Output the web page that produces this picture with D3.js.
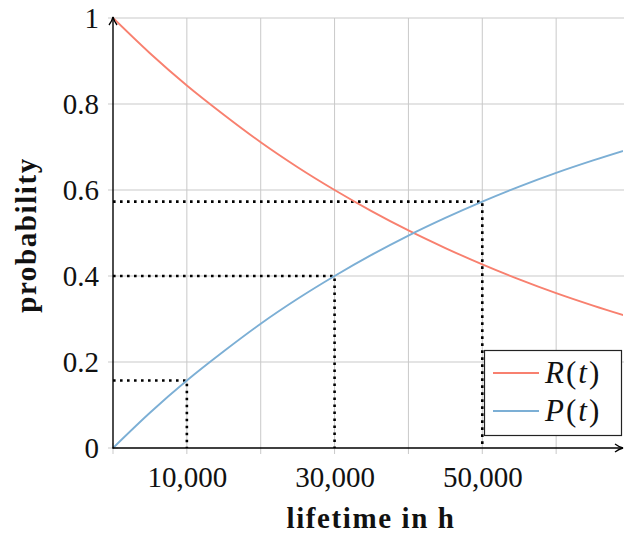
<!DOCTYPE html>
<html>
<head>
<meta charset="utf-8">
<script src="https://cdn.jsdelivr.net/npm/d3@7"></script>
<style>
  html, body { margin: 0; padding: 0; background: #fff; }
  svg { display: block; }
  svg text { font-family: "Liberation Serif", "Times New Roman", serif !important; fill: #111; }
</style>
</head>
<body>
<svg id="chart" width="624" height="535"></svg>
<script>
// lifetime samples (hours)
const hours = [0, 5000, 10000, 15000, 20000, 25000, 30000, 35000, 40000, 45000, 50000, 55000, 60000, 65000, 70000];
// reliability R(t)
const reliability = [1.000, 0.918, 0.843, 0.775, 0.711, 0.653, 0.600, 0.551, 0.506, 0.465, 0.427, 0.392, 0.360, 0.331, 0.304];
// failure probability P(t)
const failure = [0.000, 0.082, 0.157, 0.225, 0.289, 0.347, 0.400, 0.449, 0.494, 0.535, 0.573, 0.608, 0.640, 0.669, 0.696];
// marked read-offs on the failure curve
const markHours = [10000, 30000, 50000];
const markProb = [0.157, 0.400, 0.573];
// axis ticks
const xGrid = [10000, 20000, 30000, 40000, 50000, 60000];
const xLabelled = [10000, 30000, 50000];
const yTicks = [0, 0.2, 0.4, 0.6, 0.8, 1];
const seriesNames = ["R", "P"];
const seriesColors = ["#f8806f", "#7cafd5"];

const svg = d3.select("#chart");
const x = d3.scaleLinear().domain([0, 70000]).range([113, 630]);
const y = d3.scaleLinear().domain([0, 1]).range([448, 18]);
const xEnd = 623;

const defs = svg.append("defs");
defs.append("clipPath").attr("id", "plot-clip")
  .append("rect").attr("x", x(0)).attr("y", y(1) - 2).attr("width", xEnd - x(0)).attr("height", y(0) - y(1) + 4);
defs.append("marker").attr("id", "arrow").attr("viewBox", "0 0 10 10")
  .attr("refX", 9).attr("refY", 5).attr("markerWidth", 10).attr("markerHeight", 10)
  .attr("markerUnits", "userSpaceOnUse").attr("orient", "auto")
  .append("path").attr("d", "M1,1 Q5,4 9,5 Q5,6 1,9").attr("fill", "none")
  .attr("stroke", "#000").attr("stroke-width", 1.3);

// grid
const grid = svg.append("g").attr("stroke", "#c9c9c9").attr("stroke-width", 1);
grid.selectAll(".gx").data(xGrid).join("line")
  .attr("x1", d => x(d)).attr("x2", d => x(d)).attr("y1", y(1)).attr("y2", y(0) + 6);
grid.selectAll(".gy").data(yTicks.filter(d => d > 0)).join("line")
  .attr("x1", x(0) - 5).attr("x2", 640).attr("y1", d => y(d)).attr("y2", d => y(d));
grid.append("line").attr("x1", x(0) - 5).attr("x2", x(0) + 5).attr("y1", y(0)).attr("y2", y(0));
grid.append("line").attr("x1", x(0)).attr("x2", x(0)).attr("y1", y(0) - 5).attr("y2", y(0) + 6);

// axis labels from d3 axis generators (axis lines are drawn separately with arrows)
const xAxis = svg.append("g").attr("transform", `translate(0,${y(0)})`)
  .call(d3.axisBottom(x).tickValues(xLabelled).tickSize(0).tickPadding(18)
    .tickFormat(d3.format(",")));
xAxis.attr("font-family", null).select(".domain").remove();
xAxis.selectAll("text").attr("font-size", 29).attr("dy", "0.71em");

const yAxis = svg.append("g").attr("transform", `translate(${x(0)},0)`)
  .call(d3.axisLeft(y).tickValues(yTicks).tickSize(0).tickPadding(14)
    .tickFormat(d => d === 0 || d === 1 ? String(d) : d3.format(".1f")(d)));
yAxis.attr("font-family", null).select(".domain").remove();
yAxis.selectAll("text").attr("font-size", 29).attr("dy", "0.34em");

// read-off guides
const guides = svg.append("g").attr("stroke", "#000").attr("stroke-width", 2.6)
  .attr("stroke-dasharray", "2.6,4.4").attr("fill", "none");
markHours.forEach((h, i) => {
  guides.append("path")
    .attr("d", `M${x(0)},${y(markProb[i])} H${x(h)} V${y(0)}`);
});

// curves
const line = d3.line().x((d, i) => x(hours[i])).y(d => y(d)).curve(d3.curveMonotoneX);
const curves = svg.append("g").attr("clip-path", "url(#plot-clip)").attr("fill", "none").attr("stroke-width", 1.9);
curves.append("path").attr("d", line(reliability)).attr("stroke", seriesColors[0]);
curves.append("path").attr("d", line(failure)).attr("stroke", seriesColors[1]);

// axis lines with arrow tips
svg.append("line").attr("x1", x(0)).attr("x2", x(0)).attr("y1", y(0) + 0.5).attr("y2", y(1) - 1)
  .attr("stroke", "#000").attr("stroke-width", 1.4).attr("marker-end", "url(#arrow)");
svg.append("line").attr("x1", x(0) - 0.5).attr("x2", xEnd).attr("y1", y(0)).attr("y2", y(0))
  .attr("stroke", "#000").attr("stroke-width", 1.4).attr("marker-end", "url(#arrow)");

// axis titles
svg.append("text").attr("x", 371).attr("y", 528).attr("text-anchor", "middle")
  .attr("font-size", 29).attr("font-weight", "bold").attr("letter-spacing", 1.6).text("lifetime in h");
svg.append("text").attr("transform", "translate(36,235) rotate(-90)").attr("text-anchor", "middle")
  .attr("font-size", 29).attr("font-weight", "bold").attr("letter-spacing", 1.6).text("probability");

// legend
const lg = svg.append("g");
lg.append("rect").attr("x", 484.5).attr("y", 350.5).attr("width", 137).attr("height", 85)
  .attr("fill", "#fff").attr("stroke", "#222").attr("stroke-width", 1.2);
seriesNames.forEach((n, i) => {
  const cy = 373 + i * 38;
  lg.append("line").attr("x1", 493).attr("x2", 539).attr("y1", cy).attr("y2", cy)
    .attr("stroke", seriesColors[i]).attr("stroke-width", 1.9);
  const t = lg.append("text").attr("x", 545).attr("y", cy + 10).attr("font-size", 31)
    .attr("letter-spacing", 2);
  t.append("tspan").attr("font-style", "italic").text(n);
  t.append("tspan").text("(");
  t.append("tspan").attr("font-style", "italic").text("t");
  t.append("tspan").text(")");
});
</script>
</body>
</html>
